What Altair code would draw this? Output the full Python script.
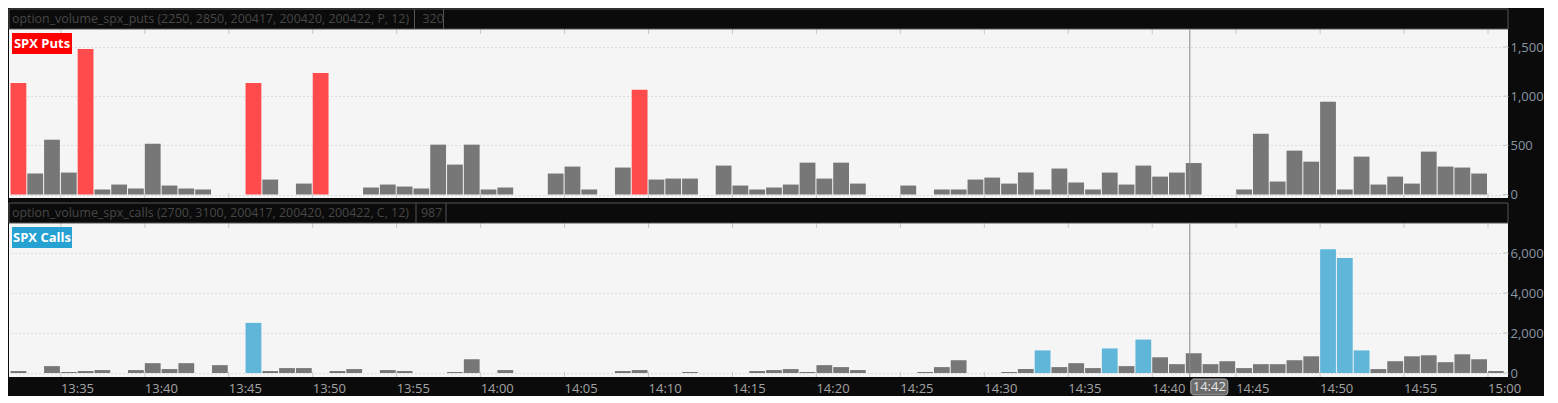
import altair as alt
import pandas as pd

# ---------------- data ----------------
SESSION_DATE = "2020-04-17"
START_TIME = "13:32"          # first 1-minute bar
TICK_TIMES = ["13:35", "13:40", "13:45", "13:50", "13:55", "14:00", "14:05", "14:10",
              "14:15", "14:20", "14:25", "14:30", "14:35", "14:40", "14:45", "14:50",
              "14:55", "15:00"]
CURSOR_TIME = "14:42"
THRESHOLD = 1000

puts_volume = [1135, 213, 557, 223, 1480, 51, 101, 61, 517, 91, 61, 51, None, None,
               1135, 152, None, 111, 1236, None, None, 71, 101, 81, 61, 507, 304, 507,
               51, 71, None, None, 213, 284, 51, None, 274, 1064, 152, 162, 162, None,
               294, 91, 51, 71, 101, 324, 162, 324, 111, None, None, 91, None, 51, 51,
               152, 172, 111, 223, 51, 264, 122, 51, 223, 101, 294, 182, 223, 320, None,
               None, 51, 618, 132, 446, 334, 943, 51, 385, 101, 182, 111, 436, 284, 274,
               213, None]

calls_volume = [98, None, 344, 49, 98, 147, None, 147, 491, 197, 491, None, 393, None,
                2506, 98, 246, 246, None, 98, 197, None, 147, 98, None, None, 49, 688,
                None, 147, None, None, None, None, None, None, 98, 147, None, None, 49,
                None, None, None, 98, 147, 197, 49, 393, 295, 147, None, None, None, 49,
                295, 639, None, None, 49, 197, 1130, 295, 491, 246, 1228, 344, 1671, 786,
                442, 987, 442, 590, 246, 442, 442, 639, 835, 6192, 5749, 1130, 197, 590,
                835, 885, 541, 934, 688, 98]

puts_header = "option_volume_spx_puts (2250, 2850, 200417, 200420, 200422, P, 12)"
calls_header = "option_volume_spx_calls (2700, 3100, 200417, 200420, 200422, C, 12)"
puts_last = "320"
calls_last = "987"
puts_badge = "SPX Puts"
calls_badge = "SPX Calls"
puts_yticks = [0, 500, 1000, 1500]
calls_yticks = [0, 2000, 4000, 6000]

# ---------------- styling ----------------
FONT = "Open Sans"
BG = "#0b0b0b"
PLOT_BG = "#f5f5f5"
GRID = "#c2c2c2"
TICK = "#c8c8c8"
BAR_GREY = "#777777"
PUT_RED = "#ff4b4b"
CALL_BLUE = "#5fb6d9"
BADGE_RED = "#ff0000"
BADGE_BLUE = "#25a1d2"
HDR_STROKE = "#555555"
HDR_TEXT = "#474747"
X_LABEL = "#a3a3a3"
Y_LABEL = "#8997a5"
CURSOR = "#8c8c8c"
HDR_FS = 12.4

# vertical layout of the single view (pixels from its top)
W = 1499
HDR = 20
P1_TOP, P1_BOT = 20, 189          # puts plot area
GAP_BOT = 194                     # dark gap between panels
P2_TOP, P2_BOT = 214, 368         # calls plot area
H = P2_BOT
PUTS_RANGE = [185.5, 38]          # pixel positions of 0 and 1,500
CALLS_RANGE = [364, 244]          # pixel positions of 0 and 6,000

MIN_MS = 60000


def to_ms(hhmm):
    return int(pd.Timestamp(f"{SESSION_DATE} {hhmm}", tz="UTC").timestamp() * 1000)


start_ms = to_ms(START_TIME)
tick_ms = [to_ms(t) for t in TICK_TIMES]
X0 = start_ms - 0.09 * MIN_MS
X1 = X0 + 89.28 * MIN_MS


def frame(vals):
    rows = [{"t": start_ms + i * MIN_MS, "t2": start_ms + (i + 1) * MIN_MS, "v": v}
            for i, v in enumerate(vals) if v is not None]
    return pd.DataFrame(rows)


xs = alt.Scale(type="utc", domain=[X0, X1], nice=False)
xaxis = alt.Axis(values=tick_ms, grid=True, gridDash=[1, 3], gridColor=GRID,
                 ticks=False, domain=False, labels=False, title=None)


def yscale(ticks, rng):
    return alt.Scale(domain=[ticks[0], ticks[-1]], range=rng, nice=False, zero=False)


def yaxis(ticks):
    return alt.Axis(orient="right", values=ticks, format=",.0f", grid=True,
                    gridDash=[1, 3], gridColor=GRID, ticks=False, domain=False,
                    title=None, labelColor=Y_LABEL, labelFontSize=13, labelFont=FONT,
                    labelPadding=2)


def bars(vals, ticks, rng, hi_color, with_xaxis):
    return alt.Chart(frame(vals)).mark_bar(x2Offset=-1).encode(
        x=alt.X("t:T", scale=xs, axis=xaxis if with_xaxis else None),
        x2="t2:T",
        y=alt.Y("v:Q", scale=yscale(ticks, rng), axis=yaxis(ticks)),
        y2=alt.datum(0),
        color=alt.condition(f"datum.v > {THRESHOLD}", alt.value(hi_color),
                            alt.value(BAR_GREY)),
    )


def right_ticks(ticks, rng):
    return alt.Chart(pd.DataFrame({"v": ticks})).mark_rule(color=TICK).encode(
        y=alt.Y("v:Q", scale=yscale(ticks, rng), axis=None),
        x=alt.value(W - 5), x2=alt.value(W))


tdf = pd.DataFrame({"t": tick_ms, "label": TICK_TIMES})


def x_ticks(y0, y1):
    return alt.Chart(tdf).mark_rule(color=TICK).encode(
        x=alt.X("t:T", axis=None), y=alt.value(y0), y2=alt.value(y1))


x_labels = alt.Chart(tdf).mark_text(align="left", baseline="middle", fontSize=13,
                                    font=FONT, color=X_LABEL).encode(
    x=alt.X("t:T", axis=None), y=alt.value(H + 12), text="label:N")


def header(label, last, top, seps, last_x):
    hdf = pd.DataFrame({"label": [label], "last": [last]})
    rect = alt.Chart(hdf).mark_rect(fill=BG, stroke=HDR_STROKE, strokeWidth=1).encode(
        x=alt.value(0), x2=alt.value(W), y=alt.value(top), y2=alt.value(top + HDR))
    text = alt.Chart(hdf).mark_text(align="left", baseline="middle", fontSize=HDR_FS,
                                    font=FONT, color=HDR_TEXT).encode(
        x=alt.value(3), y=alt.value(top + HDR / 2), text="label:N")
    s1 = alt.Chart(hdf).mark_rule(color=HDR_STROKE).encode(
        x=alt.value(seps[0]), y=alt.value(top), y2=alt.value(top + HDR))
    s2 = alt.Chart(hdf).mark_rule(color=HDR_STROKE).encode(
        x=alt.value(seps[1]), y=alt.value(top), y2=alt.value(top + HDR))
    lt = alt.Chart(hdf).mark_text(align="left", baseline="middle", fontSize=HDR_FS,
                                  font=FONT, color=HDR_TEXT).encode(
        x=alt.value(last_x), y=alt.value(top + HDR / 2), text="last:N")
    return [rect, text, s1, s2, lt]


def badge(label, color, top):
    bdf = pd.DataFrame({"badge": [label]})
    r = alt.Chart(bdf).mark_rect(fill=color).encode(
        x=alt.value(3), x2=alt.value(63), y=alt.value(top + 4), y2=alt.value(top + 25))
    t = alt.Chart(bdf).mark_text(align="center", baseline="middle", fontSize=13,
                                 font=FONT, fontWeight="bold", color="#ffffff").encode(
        x=alt.value(33), y=alt.value(top + 14.5), text="badge:N")
    return [r, t]


cdf = pd.DataFrame({"t": [to_ms(CURSOR_TIME)], "label": [CURSOR_TIME]})


def cursor(y0, y1):
    return alt.Chart(cdf).mark_rule(color=CURSOR, xOffset=4).encode(
        x=alt.X("t:T", axis=None), y=alt.value(y0), y2=alt.value(y1))


gap = alt.Chart(pd.DataFrame({"k": [0]})).mark_rect(fill=BG).encode(
    x=alt.value(0), x2=alt.value(W), y=alt.value(P1_BOT), y2=alt.value(GAP_BOT))

box = alt.Chart(cdf).mark_rect(cornerRadius=3, fill="#6b6b6b", stroke="#a9a9a9",
                               strokeWidth=1, xOffset=5, x2Offset=42).encode(
    x=alt.X("t:T", axis=None), x2="t:T", y=alt.value(H + 2), y2=alt.value(H + 18))
box_text = alt.Chart(cdf).mark_text(align="center", baseline="middle", fontSize=13,
                                    font=FONT, color="#e6e6e6", xOffset=23.5).encode(
    x=alt.X("t:T", axis=None), y=alt.value(H + 10), text="label:N")

layers = (
    [bars(puts_volume, puts_yticks, PUTS_RANGE, PUT_RED, True),
     bars(calls_volume, calls_yticks, CALLS_RANGE, CALL_BLUE, False),
     right_ticks(puts_yticks, PUTS_RANGE), right_ticks(calls_yticks, CALLS_RANGE),
     x_ticks(P1_TOP, P1_TOP + 5), x_ticks(P1_BOT - 5, P1_BOT),
     x_ticks(P2_TOP, P2_TOP + 5), x_ticks(P2_BOT - 5, P2_BOT),
     gap, x_labels]
    + header(puts_header, puts_last, 0, [405.5, 434.5], 413.5)
    + header(calls_header, calls_last, GAP_BOT, [407, 437], 412)
    + [cursor(P1_TOP, P1_BOT), cursor(P2_TOP, P2_BOT)]
    + badge(puts_badge, BADGE_RED, P1_TOP) + badge(calls_badge, BADGE_BLUE, P2_TOP)
    + [box, box_text]
)

chart = alt.layer(*layers).resolve_scale(y="independent").resolve_axis(
    y="independent"
).properties(
    width=W, height=H, background=BG, padding=0
).configure_view(
    fill=PLOT_BG, stroke=None
)

chart.save("out.html", embed_options={"renderer": "svg", "actions": False})
